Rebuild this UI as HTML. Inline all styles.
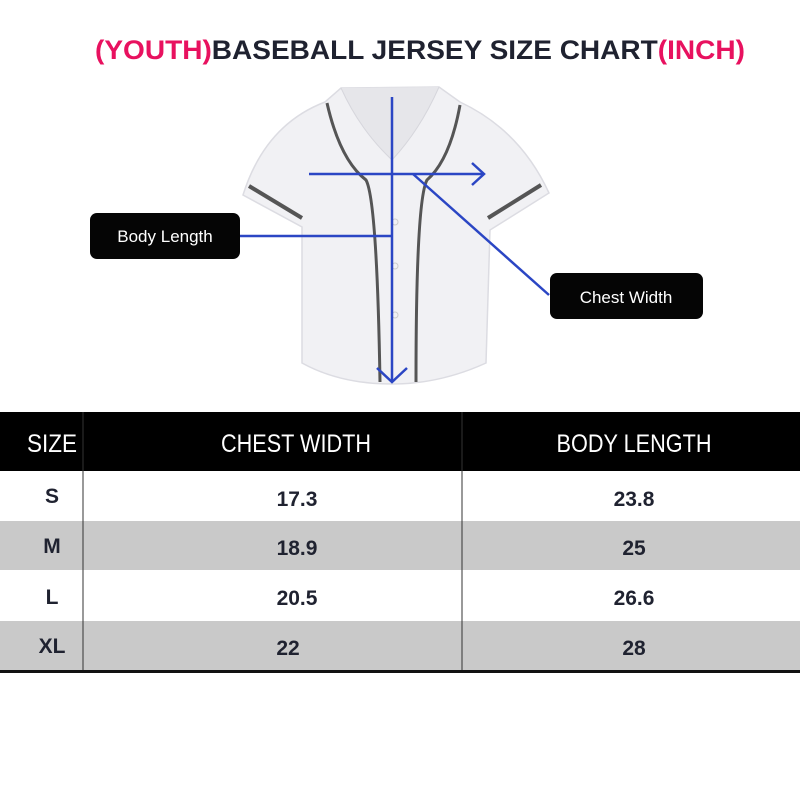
<!DOCTYPE html>
<html><head><meta charset="utf-8"><style>
html,body{margin:0;padding:0;background:#fff;width:800px;height:800px;overflow:hidden}
svg{display:block}
text{font-family:"Liberation Sans",sans-serif}
</style></head><body>
<svg width="800" height="800" viewBox="0 0 800 800">
<rect width="800" height="800" fill="#fff"/>
<text x="95" y="59" font-size="27" font-weight="bold" textLength="650" lengthAdjust="spacingAndGlyphs" fill="#1f2230"><tspan fill="#e8115f">(YOUTH)</tspan>BASEBALL JERSEY SIZE CHART<tspan fill="#e8115f">(INCH)</tspan></text>
<!-- shirt -->
<path d="M341,88 L439,87 L460,102 Q520,130 549,193 L490,230 L486,363 Q440,384 392,384 Q340,384 302,363 L302,227 L243,195 Q265,125 325,102 Z" fill="#f1f1f4" stroke="#dcdce2" stroke-width="1.5"/>
<path d="M341,88 Q360,130 392,160 Q420,130 439,87" fill="#e6e6ea" stroke="#d6d6dc" stroke-width="1"/>
<path d="M327,103 Q340,160 366,180 Q377,200 380,382" fill="none" stroke="#555" stroke-width="3"/>
<path d="M460,105 Q450,160 427,180 Q416,200 416,382" fill="none" stroke="#555" stroke-width="3"/>
<path d="M249,186 L302,218" stroke="#555" stroke-width="4"/>
<path d="M541,185 L488,218" stroke="#555" stroke-width="4"/>
<circle cx="395" cy="222" r="3" fill="none" stroke="#ccc"/>
<circle cx="395" cy="266" r="3" fill="none" stroke="#ccc"/>
<circle cx="395" cy="315" r="3" fill="none" stroke="#ccc"/>
<!-- blue lines -->
<g stroke="#2b46c4" stroke-width="2.5" fill="none">
<line x1="392" y1="97" x2="392" y2="382"/>
<polyline points="377,368 392,382 407,368"/>
<line x1="309" y1="174" x2="484" y2="174"/>
<polyline points="472,163 484,174 472,185"/>
<line x1="413" y1="174" x2="549" y2="295"/>
<line x1="240" y1="236" x2="392" y2="236"/>
</g>
<rect x="90" y="213" width="150" height="46" rx="7" fill="#050505"/>
<text x="165" y="242" font-size="17" fill="#fff" text-anchor="middle">Body Length</text>
<rect x="550" y="273" width="153" height="46" rx="7" fill="#050505"/>
<text x="626" y="303" font-size="17" fill="#fff" text-anchor="middle">Chest Width</text>
<!-- table -->
<rect x="0" y="412" width="800" height="59" fill="#000"/>
<rect x="0" y="521" width="800" height="49" fill="#c9c9c9"/>
<rect x="0" y="621" width="800" height="49" fill="#c9c9c9"/>
<line x1="83" y1="412" x2="83" y2="670" stroke="#333" stroke-width="1"/>
<line x1="462" y1="412" x2="462" y2="670" stroke="#333" stroke-width="1"/>
<rect x="0" y="670" width="800" height="3" fill="#111"/>
<g font-size="25" fill="#fff" text-anchor="middle">
<text x="52" y="452" textLength="50" lengthAdjust="spacingAndGlyphs">SIZE</text>
<text x="296" y="452" textLength="150" lengthAdjust="spacingAndGlyphs">CHEST WIDTH</text>
<text x="634" y="452" textLength="155" lengthAdjust="spacingAndGlyphs">BODY LENGTH</text>
</g>
<g font-size="21" font-weight="bold" fill="#1f2230" text-anchor="middle">
<text x="52" y="503">S</text><text x="297" y="506">17.3</text><text x="634" y="506">23.8</text>
<text x="52" y="553">M</text><text x="297" y="555">18.9</text><text x="634" y="555">25</text>
<text x="52" y="604">L</text><text x="297" y="605">20.5</text><text x="634" y="605">26.6</text>
<text x="52" y="653">XL</text><text x="288" y="655">22</text><text x="634" y="655">28</text>
</g>
</svg>
</body></html>
